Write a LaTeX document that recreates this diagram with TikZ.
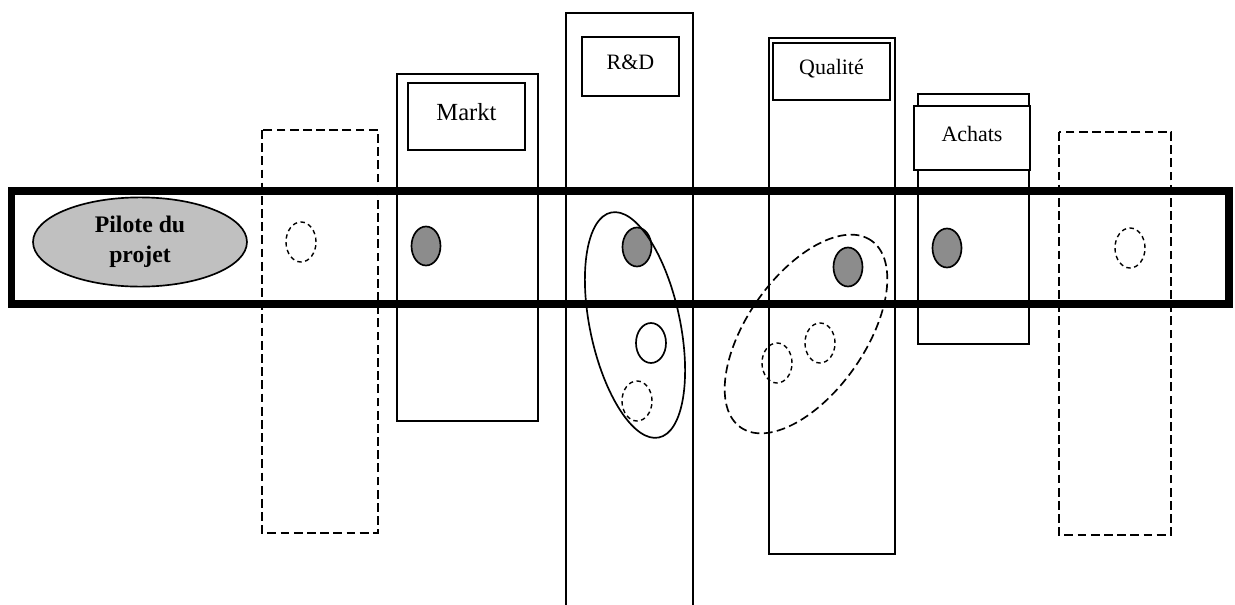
\documentclass[tikz,border=0pt]{standalone}
\usepackage{fontspec}
\setmainfont{Liberation Serif}
\usetikzlibrary{shapes.geometric}

\definecolor{grisclair}{RGB}{192,192,192}
\definecolor{grisfonce}{RGB}{140,140,140}

\begin{document}
\begin{tikzpicture}[x=0.02cm, y=0.02cm,
	trait/.style={line width=0.95pt},
	tirets/.style={line width=0.95pt, dash pattern=on 5pt off 2.5pt},
	pointilles/.style={line width=0.8pt, dash pattern=on 2.5pt off 2pt},
	service/.style={draw, fill=white, line width=0.95pt, inner sep=0pt, text depth=5pt, font=\fontsize{12.5}{15}\selectfont},
	jeton/.style={draw, fill=grisfonce, line width=0.95pt}]
	\useasboundingbox (0,0) rectangle (1235,-605);
	%colonnes
	\draw[tirets] (262,-130) rectangle (378,-533);
	\draw[trait] (397,-74) rectangle (538,-421);
	\draw[trait] (566,-606) -- (566,-13) -- (693,-13) -- (693,-606);
	\draw[trait] (769,-38) rectangle (895,-554);
	\draw[trait] (918,-94) rectangle (1029,-344);
	\draw[tirets] (1059,-132) rectangle (1171,-535);
	%services
	\node[service, minimum width=2.34cm, minimum height=1.34cm, font=\fontsize{14}{16}\selectfont] (markt) at (466.5,-116.5) {Markt};
	\node[service, minimum width=1.94cm, minimum height=1.18cm] (rd) at (630.5,-66.5) {R\&D};
	\node[service, minimum width=2.34cm, minimum height=1.14cm] (qualite) at (831.5,-71.5) {Qualité};
	\node[service, minimum width=2.32cm, minimum height=1.28cm] (achats) at (972,-138) {Achats};
	%projet
	\draw[line width=4.25pt] (11.5,-191) rectangle (1229,-304);
	\node[ellipse, draw, fill=grisclair, line width=0.95pt, minimum width=4.28cm, minimum height=1.78cm,
		align=center, font=\bfseries\fontsize{13.5}{17}\selectfont] (pilote) at (140,-242) {Pilote du\\projet};
	%membres
	\foreach \x/\y in {426/246, 637/247, 848/267, 947/248}
	\draw[jeton] (\x,-\y) ellipse [x radius=14.5, y radius=19.5];
	\foreach \x/\y in {301/242, 1130/248, 637/401, 777/363, 820/343}
	\draw[pointilles] (\x,-\y) ellipse [x radius=15, y radius=20];
	\draw[trait] (651,-343) ellipse [x radius=15, y radius=20];
	%groupes
	\draw[trait, rotate around={12:(635,-325)}] (635,-325) ellipse [x radius=45, y radius=115];
	\draw[tirets, rotate around={55:(806,-334)}] (806,-334) ellipse [x radius=114, y radius=59];
\end{tikzpicture}
\end{document}
